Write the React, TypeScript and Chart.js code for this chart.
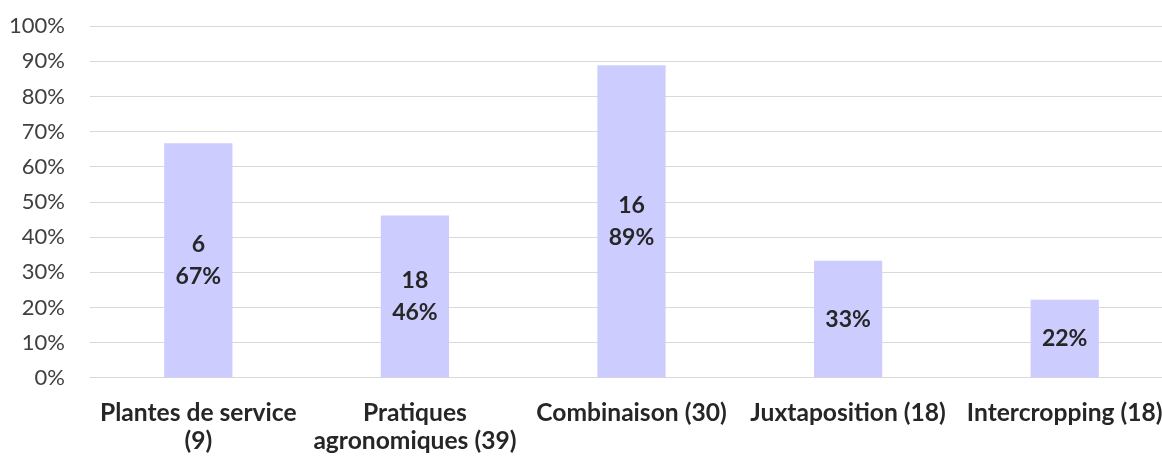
import React, { useEffect, useRef } from "react";
import { Chart, registerables } from "chart.js";

Chart.register(...registerables);

const categories: string[][] = [
  ["Plantes de service", "(9)"],
  ["Pratiques", "agronomiques (39)"],
  ["Combinaison (30)"],
  ["Juxtaposition (18)"],
  ["Intercropping (18)"],
];
const shares: number[] = [66.7, 46.2, 88.9, 33.3, 22.2];
const barLabels: string[][] = [
  ["6", "67%"],
  ["18", "46%"],
  ["16", "89%"],
  ["33%"],
  ["22%"],
];
const yTicks: number[] = [0, 10, 20, 30, 40, 50, 60, 70, 80, 90, 100];

const FONT = "Lato, 'Open Sans', sans-serif";

const barLabelPlugin = {
  id: "barLabels",
  afterDatasetsDraw(chart: any) {
    const ctx = chart.ctx;
    const meta = chart.getDatasetMeta(0);
    ctx.save();
    ctx.font = `bold 23px ${FONT}`;
    ctx.fillStyle = "#262626";
    ctx.textAlign = "center";
    ctx.textBaseline = "middle";
    const lh = 32;
    meta.data.forEach((el: any, i: number) => {
      const lines = barLabels[i];
      const cy = (el.y + el.base) / 2;
      const start = cy - ((lines.length - 1) * lh) / 2;
      lines.forEach((t, j) => ctx.fillText(t, el.x, start + j * lh));
    });
    ctx.restore();
  },
};

export default function App() {
  const ref = useRef<HTMLCanvasElement | null>(null);
  useEffect(() => {
    if (!ref.current) return;
    const chart = new Chart(ref.current, {
      type: "bar",
      data: {
        labels: categories,
        datasets: [
          {
            data: shares,
            backgroundColor: "#CCCCFF",
            borderWidth: 0,
            barPercentage: 0.315,
            categoryPercentage: 1,
          },
        ],
      },
      options: {
        responsive: false,
        animation: false,
        layout: { padding: { left: 0, right: 15, top: 0, bottom: 0 } },
        plugins: { legend: { display: false }, tooltip: { enabled: false } },
        scales: {
          x: {
            grid: { display: false, drawTicks: false },
            border: { display: true, color: "#d9d9d9", width: 1 },
            ticks: {
              autoSkip: false,
              maxRotation: 0,
              minRotation: 0,
              padding: 21,
              color: "#262626",
              font: { family: FONT, size: 24.6, weight: "bold", lineHeight: 1.14 },
            },
          },
          y: {
            min: 0,
            max: 100,
            afterBuildTicks(scale: any) {
              scale.ticks = yTicks.map((v) => ({ value: v }));
            },
            afterFit(scale: any) {
              scale.width = 82;
            },
            grid: { color: "#d9d9d9", drawTicks: false, lineWidth: 1 },
            border: { display: false },
            ticks: {
              padding: 25,
              color: "#404040",
              font: { family: FONT, size: 22 },
              callback: (v: any) => `${v}%`,
            },
          },
        },
      },
      plugins: [barLabelPlugin],
    });
    return () => chart.destroy();
  }, []);
  return (
    <div
      style={{
        position: "fixed",
        left: 0,
        top: 0,
        width: 1162,
        height: 456,
        overflow: "hidden",
        background: "#fff",
      }}
    >
      <canvas
        ref={ref}
        width={1180}
        height={488}
        style={{ display: "block", position: "absolute", left: 8, top: -12 }}
      />
    </div>
  );
}
